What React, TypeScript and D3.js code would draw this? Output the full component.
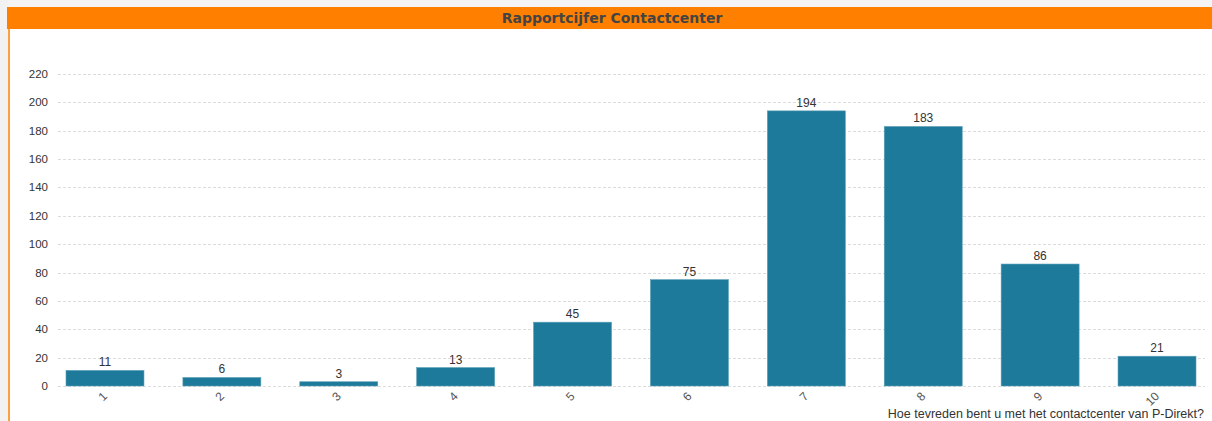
import React from "react";
import * as d3 from "d3";

const categories = ["1", "2", "3", "4", "5", "6", "7", "8", "9", "10"];
const counts = [11, 6, 3, 13, 45, 75, 194, 183, 86, 21];
const yTicks = [0, 20, 40, 60, 80, 100, 120, 140, 160, 180, 200, 220];
const chartTitle = "Rapportcijfer Contactcenter";
const xAxisTitle = "Hoe tevreden bent u met het contactcenter van P-Direkt?";

const W = 1212;
const H = 421;

export default function App() {
  const x = d3.scaleBand<string>().domain(categories).range([66, 1196]).paddingInner(0.333).paddingOuter(0);
  const y = d3.scaleLinear().domain([0, 220]).range([386, 74]);
  const font = "'Liberation Sans', Arial, sans-serif";
  return (
    <svg width={W} height={H} style={{ position: "absolute", left: 0, top: 0, background: "#fff" }}>
      <rect x={0} y={0} width={W} height={7} fill="#f4f4f4" />
      <rect x={0} y={0} width={8} height={H} fill="#f2f2f2" />
      <rect x={7} y={7} width={W - 7} height={22} fill="#ff8000" />
      <line x1={9} x2={9} y1={29} y2={H} stroke="#ff8000" strokeWidth={1.5} />
      <text x={612} y={23} textAnchor="middle" fontFamily="'DejaVu Sans', Verdana, sans-serif" fontWeight="bold" fontSize={14} fill="#444">
        {chartTitle}
      </text>
      {yTicks.map((t) => (
        <g key={t}>
          <line x1={58} x2={1205} y1={Math.round(y(t)) + 0.5} y2={Math.round(y(t)) + 0.5} stroke="#dcdcdc" strokeDasharray="3,2" />
          <text x={48} y={y(t) + 4} textAnchor="end" fontFamily={font} fontSize={11.5} fill="#333">
            {t}
          </text>
        </g>
      ))}
      {categories.map((c, i) => (
        <g key={c}>
          <rect x={x(c)!} y={y(counts[i])} width={x.bandwidth()} height={y(0) - y(counts[i])} fill="#1d7a9a" stroke="#5a9fb6" strokeWidth={0.6} />
          <text x={x(c)! + x.bandwidth() / 2} y={y(counts[i]) - 4} textAnchor="middle" fontFamily={font} fontSize={12} fill="#333">
            {counts[i]}
          </text>
          <text
            transform={`translate(${x(c)! + x.bandwidth() / 2 + 3},${397}) rotate(-45)`}
            textAnchor="end"
            fontFamily={font}
            fontSize={12}
            fill="#555"
          >
            {c}
          </text>
        </g>
      ))}
      <text x={1204} y={418} textAnchor="end" fontFamily={font} fontSize={12.5} fill="#333">
        {xAxisTitle}
      </text>
    </svg>
  );
}
